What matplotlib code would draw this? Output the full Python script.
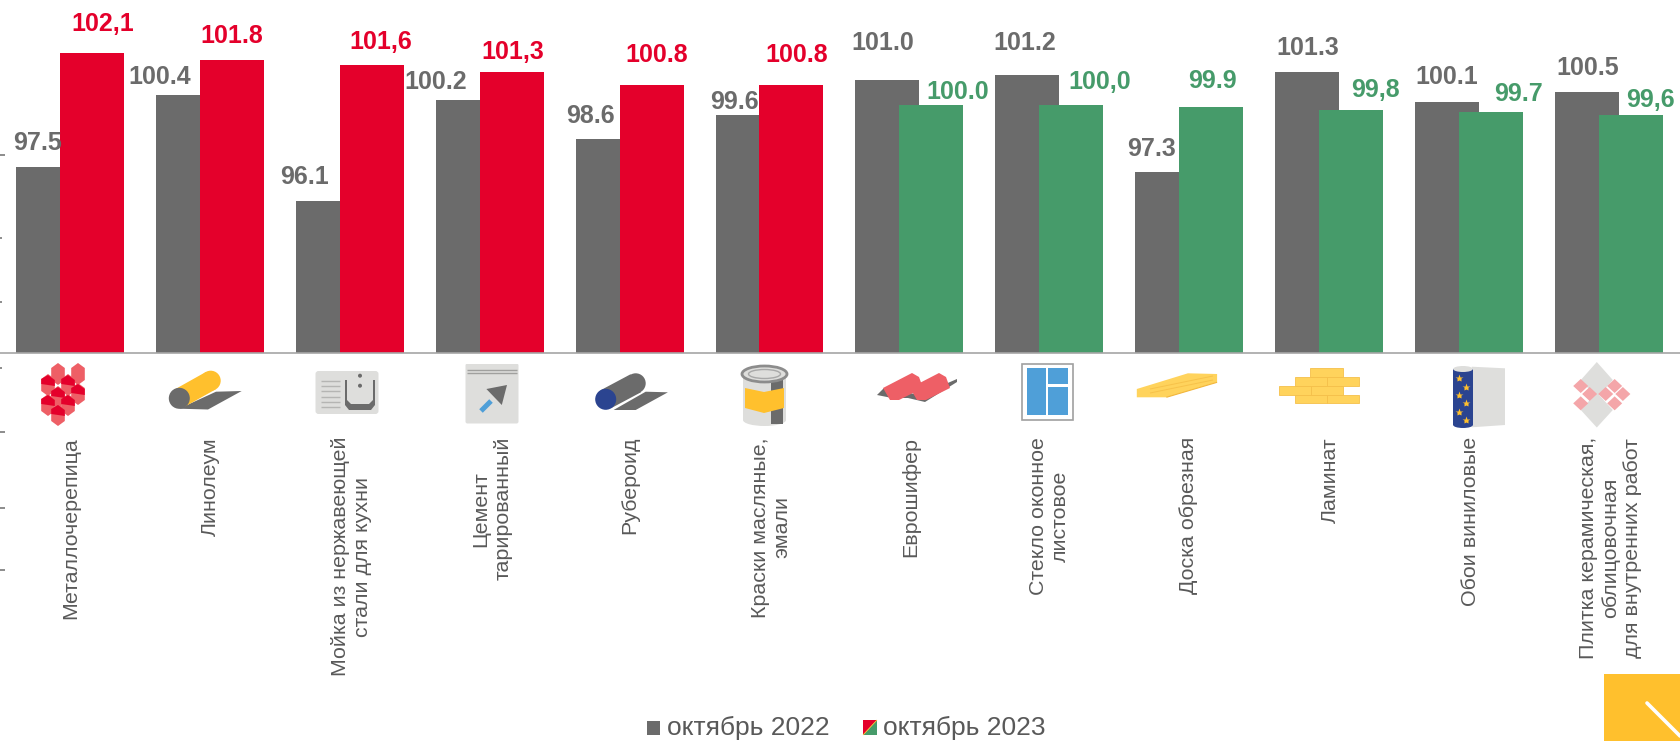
import matplotlib
matplotlib.use('Agg')
import matplotlib.pyplot as plt
from matplotlib.patches import Polygon, Circle, Ellipse, Rectangle, FancyBboxPatch

plt.rcParams['font.family'] = ['Liberation Sans', 'DejaVu Sans']

# Data
categories = ['Металлочерепица', 'Линолеум', 'Мойка из нержавеющей\nстали для кухни',
              'Цемент\nтарированный', 'Рубероид', 'Краски масляные,\nэмали', 'Еврошифер',
              'Стекло оконное\nлистовое', 'Доска обрезная', 'Ламинат', 'Обои виниловые',
              'Плитка керамическая,\nоблицовочная\nдля внутренних работ']
oct_2022 = [97.5, 100.4, 96.1, 100.2, 98.6, 99.6, 101.0, 101.2, 97.3, 101.3, 100.1, 100.5]
oct_2023 = [102.1, 101.8, 101.6, 101.3, 100.8, 100.8, 100.0, 100.0, 99.9, 99.8, 99.7, 99.6]
labels_2022 = ['97.5', '100.4', '96.1', '100.2', '98.6', '99.6', '101.0', '101.2', '97.3', '101.3', '100.1', '100.5']
labels_2023 = ['102,1', '101.8', '101,6', '101,3', '100.8', '100.8', '100.0', '100,0', '99.9', '99,8', '99.7', '99,6']
legend_names = ['октябрь 2022', 'октябрь 2023']

GRAY = '#6b6b6b'
RED = '#e4002b'
GREEN = '#469b6a'
TEXT = '#595959'
YELLOW = '#ffc02d'
LIGHT = '#dededc'
BLUE = '#2b4490'
PLANK = '#ffd35c'
HEX = '#ee5f66'
PANE = '#4f9fd8'

# label offsets from the bar top, pixels
gray_off = [(-11, 24), (-28, 18), (-23, 24), (-32, 18), (-17, 23), (-13, 13),
            (-5, 37), (-3, 32), (-16, 23), (1, 24), (0, 25), (1, 24)]
red_off = [(11, 29), (0, 24), (9, 23), (1, 20), (5, 30), (5, 30),
           (26, 13), (28, 23), (1, 26), (24, 20), (27, 18), (20, 15)]
label_x = [71, 210, 351, 492, 630, 771, 911, 1049, 1189, 1330, 1470, 1611]

W, H = 1680, 741
STEP = 139.9
BASE_PX = 352.6
fig = plt.figure(figsize=(W / 100, H / 100), dpi=100)

ax = fig.add_axes([0, 0, 1, 1])
ax.set_xlim(-70 / STEP, (W - 70) / STEP)
ax.set_ylim(90 - (H - BASE_PX) / 24.8, 90 + BASE_PX / 24.8)
ax.axis('off')

bar_w = 64 / STEP
shift = 22 / STEP
for i in range(len(categories)):
    ax.bar(i - shift, oct_2022[i] - 90, bar_w, bottom=90, color=GRAY, zorder=2)
    col = RED if i < 6 else GREEN
    ax.bar(i + shift, oct_2023[i] - 90, bar_w, bottom=90, color=col, zorder=3)
    ax.annotate(labels_2022[i], (i - shift, oct_2022[i]), xytext=gray_off[i], textcoords='offset pixels',
                ha='center', va='center', fontsize=18, fontweight='bold', color=GRAY, zorder=5)
    ax.annotate(labels_2023[i], (i + shift, oct_2023[i]), xytext=red_off[i], textcoords='offset pixels',
                ha='center', va='center', fontsize=18, fontweight='bold', color=col, zorder=5)
ax.axhline(90, color='#a6a6a6', lw=1.2, zorder=4)

# overlay in pixel coordinates for the pictograms, legend and corner mark
ov = fig.add_axes([0, 0, 1, 1])
ov.set_xlim(0, W)
ov.set_ylim(H, 0)
ov.axis('off')
ov.patch.set_alpha(0)


def poly(pts, color, z=3):
    ov.add_patch(Polygon(pts, closed=True, fc=color, ec='none', zorder=z))


def disc(x, y, r, color, z=3):
    ov.add_patch(Circle((x, y), r, fc=color, ec='none', zorder=z))


def rect(x0, y0, x1, y1, color, z=3):
    ov.add_patch(Rectangle((x0, y0), x1 - x0, y1 - y0, fc=color, ec='none', zorder=z))


def diamond(x, y, hx, hy, color):
    poly([(x, y - hy), (x + hx, y), (x, y + hy), (x - hx, y)], color)


def seg(x0, y0, x1, y1, color, lw=1.0, z=4, cap='butt'):
    ov.plot([x0, x1], [y0, y1], color=color, lw=lw, zorder=z, solid_capstyle=cap)


for y, w in [(155, 5), (238, 2), (302, 2), (368, 2), (432, 5), (508, 5), (570, 5)]:
    seg(0, y, w, y, '#8c8c8c', lw=1.4)

# metal tile
for cx, cy in [(58, 374), (78, 374), (48, 385), (68, 385), (58, 397), (78, 394), (48, 405), (68, 405), (58, 415)]:
    poly([(cx, cy - 11), (cx + 6.8, cy - 6), (cx + 6.8, cy + 6), (cx, cy + 11), (cx - 6.8, cy + 6), (cx - 6.8, cy - 6)], HEX)
for cx, cy in [(48, 385), (68, 385), (58, 397), (78, 394), (48, 405), (68, 405), (58, 415)]:
    poly([(cx - 6.8, cy - 6), (cx, cy - 10), (cx + 6.8, cy - 5), (cx + 6.8, cy + 1), (cx - 6.8, cy - 1)], RED, z=4)

# linoleum
poly([(179, 408.7), (208, 409.5), (241.7, 391), (216, 391.7)], GRAY)
poly([(174.4, 389.6), (205.8, 372), (215.6, 389.4), (184.2, 407)], YELLOW)
disc(210.7, 380.7, 10, YELLOW)
disc(179.3, 398.3, 10.5, GRAY, z=4)

# sink
ov.add_patch(FancyBboxPatch((317, 372.5), 60, 40, boxstyle='round,pad=1.5,rounding_size=3', fc=LIGHT, ec='none', zorder=3))
for y in [381, 386, 391, 397, 402, 407]:
    seg(320.7, y, 340, y, '#b5b5b3', lw=1.0)
poly([(345, 380), (345, 405), (349, 410), (371, 410), (375, 405), (375, 380), (373, 380), (373, 400),
      (369, 404), (351, 404), (347, 400), (347, 380)], GRAY, z=4)
disc(360, 375.7, 2, GRAY, z=4)
disc(360, 385.7, 2, GRAY, z=4)

# cement bag
ov.add_patch(FancyBboxPatch((467, 365), 50, 57, boxstyle='round,pad=1.5,rounding_size=2', fc=LIGHT, ec='none', zorder=3))
rect(465, 361, 519, 363.5, 'white', z=4)
seg(467, 370, 517, 370, '#a0a09e', lw=1.0)
seg(467, 373, 517, 373, '#a0a09e', lw=1.0)
poly([(486.4, 389), (507, 385), (501.8, 405)], GRAY, z=4)
seg(491, 401, 481, 411, PANE, lw=3.6)

# roofing felt
poly([(613.6, 410), (635.7, 410), (667.9, 392.3), (645.7, 391.7)], GRAY)
poly([(600.5, 390.3), (630.5, 374.3), (640.9, 392.3), (610.9, 408.3)], GRAY)
disc(635.7, 383.3, 10, GRAY)
disc(605.7, 399.3, 10.5, BLUE, z=4)

# paint can
rect(743, 374, 786, 420, LIGHT)
ov.add_patch(Ellipse((764.5, 420), 43, 12, fc=LIGHT, ec='none', zorder=3))
rect(770.5, 376, 783, 424, GRAY)
ov.add_patch(Ellipse((764.5, 374), 45, 16, fc=LIGHT, ec='#8c8c8c', lw=2, zorder=4))
ov.add_patch(Ellipse((764.5, 374), 32, 9, fc=LIGHT, ec='#a8a8a8', lw=1, zorder=4))
poly([(745, 388), (764, 392), (784, 388), (784, 408), (764, 413), (745, 408)], YELLOW, z=4)

# corrugated sheet
poly([(877, 395), (884, 388), (920, 395), (957, 379), (957, 382), (925, 402), (908, 398), (892, 398)], GRAY)
for dx in [0, 27]:
    poly([(883 + dx, 388), (912 + dx, 373), (919 + dx, 377), (923 + dx, 388), (899 + dx, 400), (890 + dx, 400)], HEX, z=4)

# window
ov.add_patch(Rectangle((1022, 363.5), 51, 56.5, fc='white', ec='#a0a0a0', lw=1.2, zorder=3))
rect(1026.8, 368.3, 1045.7, 415, PANE, z=4)
rect(1048.2, 368.3, 1067.9, 384, PANE, z=4)
rect(1048.2, 387.3, 1067.9, 415, PANE, z=4)

# board
poly([(1136.8, 389), (1187.9, 373.3), (1217.1, 374), (1217.1, 382.3), (1166.4, 397.3), (1136.8, 397.3)], PLANK)
seg(1166.4, 397.3, 1217.1, 382.3, '#f2b63c', lw=0.8)
for y0 in [387, 391]:
    seg(1150, y0 + 2, 1213, y0 - 13 + 2, '#f7c24a', lw=0.7)

# laminate
for x0, x1, y0, y1 in [(1310.4, 1342.9, 368.3, 377), (1295, 1327.1, 377.3, 386), (1327.1, 1358.6, 377.3, 386),
                       (1279, 1311, 386.2, 394.6), (1311, 1342.9, 386.2, 394.6), (1295, 1327.1, 394.8, 403.3),
                       (1327.1, 1358.6, 394.8, 403.3)]:
    ov.add_patch(Rectangle((x0, y0), x1 - x0, y1 - y0, fc=PLANK, ec='#f5c04a', lw=0.6, zorder=3))

# wallpaper
poly([(1471.8, 366.7), (1505, 368.3), (1505, 425), (1471.8, 427.3)], LIGHT)
rect(1453.2, 369, 1472.9, 425, BLUE, z=4)
ov.add_patch(Ellipse((1463, 425), 19.7, 6, fc=BLUE, ec='none', zorder=4))
ov.add_patch(Ellipse((1463, 369), 19.7, 6, fc=LIGHT, ec='none', zorder=5))
for x, y in [(1459.3, 378), (1466.4, 386.7), (1459.3, 395), (1466.4, 403.3), (1459.3, 411.7), (1466.4, 420)]:
    ov.plot(x, y, marker='*', ms=6, color=YELLOW, mec='none', zorder=5)

# ceramic tile
diamond(1596.8, 380, 16, 18, LIGHT)
diamond(1596.8, 410, 16, 17.5, LIGHT)
for zx, zy in [(1290, 198), (1315, 222), (1290, 250), (1360, 222), (1385, 198), (1408, 222), (1385, 250)]:
    diamond(1120 + zx / 2.8, 320 + zy / 3, 7.5, 7, '#f4a6a9')

# category names
for x, name in zip(label_x, categories):
    ov.text(x, 437, name, rotation=90, ha='center', va='top', multialignment='center',
            fontsize=15.4, color=TEXT, linespacing=1.2)

# legend
rect(647, 721, 660, 735, GRAY)
ov.text(667, 728, legend_names[0], ha='left', va='center', fontsize=19, color=TEXT)
poly([(863, 720), (877, 720), (863, 735)], RED)
poly([(877, 720), (877, 735), (863, 735)], GREEN)
seg(877, 720, 863, 735, YELLOW, lw=0.6)
ov.text(883, 728, legend_names[1], ha='left', va='center', fontsize=19, color=TEXT)

# corner mark
rect(1604, 674, 1680, 741, YELLOW)
seg(1647, 703, 1680, 736, 'white', lw=2.6, z=5, cap='round')

fig.savefig('out.png', dpi=100)
